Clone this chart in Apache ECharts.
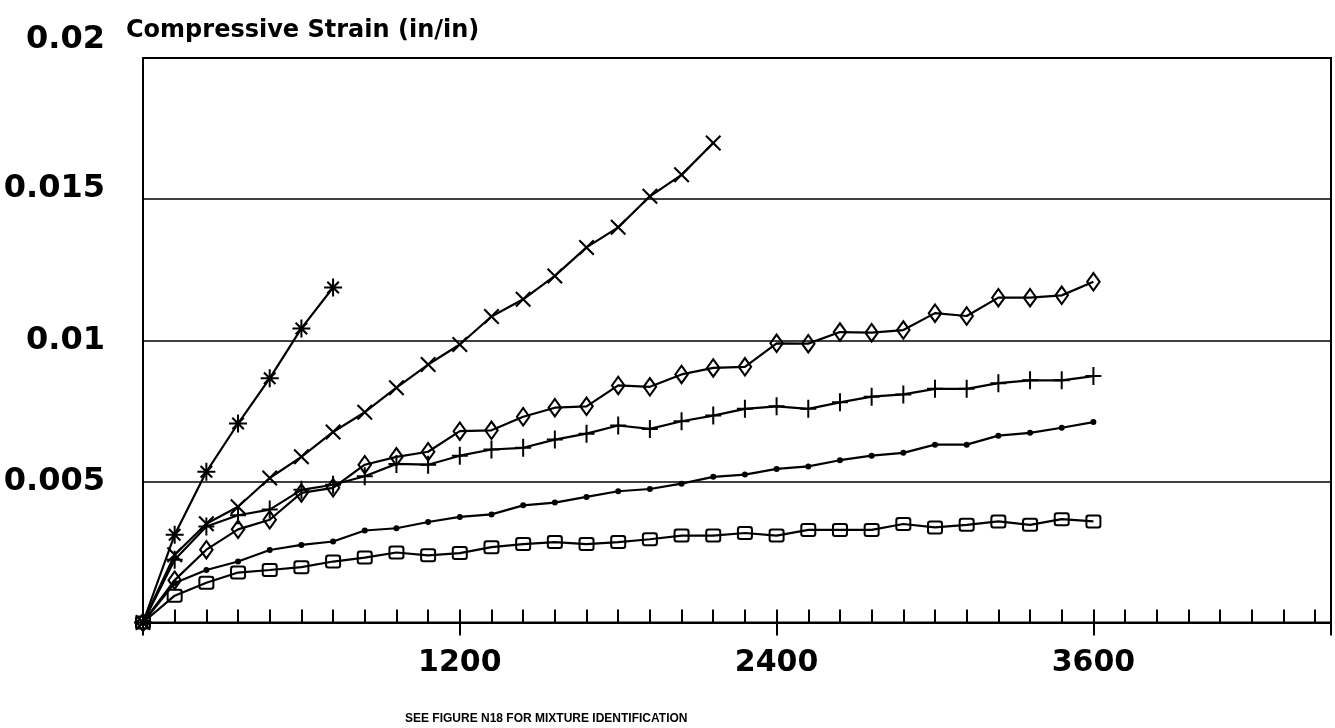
<!DOCTYPE html>
<html>
<head>
<meta charset="utf-8">
<script src="https://cdn.jsdelivr.net/npm/echarts@6/dist/echarts.min.js"></script>
<style>
  html, body { margin: 0; padding: 0; background: #fff; }
  #chart { width: 1335px; height: 728px; }
</style>
</head>
<body>
<div id="chart"></div>
<script>
// Time (x) values shared by all series
const times = [0, 120, 240, 360, 480, 600, 720, 840, 960, 1080, 1200, 1320, 1440, 1560, 1680,
  1800, 1920, 2040, 2160, 2280, 2400, 2520, 2640, 2760, 2880, 3000, 3120, 3240, 3360, 3480, 3600];

// Compressive strain values (in/in), one array per mixture (marker)
const asteriskValues = [0, 0.00311, 0.00534, 0.00705, 0.00865, 0.01042, 0.01187];
const crossValues = [0, 0.0024, 0.0035, 0.0041, 0.00512, 0.00587, 0.00675, 0.00745, 0.00832, 0.00914,
  0.00985, 0.01084, 0.01145, 0.01228, 0.01329, 0.0140, 0.0151, 0.01586, 0.01699];
const diamondValues = [0, 0.0015, 0.00258, 0.0033, 0.00364, 0.00459, 0.00477, 0.00559, 0.00587, 0.00605,
  0.00678, 0.00681, 0.00729, 0.00761, 0.00766, 0.0084, 0.00835, 0.00879, 0.00902, 0.00906,
  0.00989, 0.00988, 0.01029, 0.01027, 0.01036, 0.01096, 0.01086, 0.01151, 0.01151, 0.01159, 0.01207];
const plusValues = [0, 0.00222, 0.0034, 0.0038, 0.004, 0.0047, 0.00488, 0.00518, 0.00562, 0.00559,
  0.00591, 0.00613, 0.00619, 0.00648, 0.00669, 0.00698, 0.00686, 0.00713, 0.00733, 0.00757,
  0.00766, 0.00757, 0.0078, 0.008, 0.00808, 0.00828, 0.00828, 0.00848, 0.00858, 0.00858, 0.00873];
const dotValues = [0, 0.0014, 0.00186, 0.00216, 0.00257, 0.00275, 0.00287, 0.00326, 0.00334, 0.00356,
  0.00374, 0.00383, 0.00415, 0.00425, 0.00445, 0.00465, 0.00473, 0.00492, 0.00516, 0.00524,
  0.00544, 0.00553, 0.00575, 0.00591, 0.00601, 0.0063, 0.0063, 0.00662, 0.00672, 0.0069, 0.0071];
const squareValues = [0, 0.00095, 0.00141, 0.00177, 0.00186, 0.00196, 0.00216, 0.0023, 0.00248, 0.00238,
  0.00246, 0.00267, 0.00278, 0.00285, 0.00278, 0.00285, 0.00295, 0.00308, 0.00308, 0.00317,
  0.00308, 0.00328, 0.00328, 0.00328, 0.00349, 0.00337, 0.00346, 0.00358, 0.00346, 0.00366, 0.00358];

// Axis tick labels
const xTickLabels = [1200, 2400, 3600];
const yTickLabels = ['0.005', '0.01', '0.015', '0.02'];

const titleText = 'Compressive Strain (in/in)';
const footerText = 'SEE FIGURE N18 FOR MIXTURE IDENTIFICATION';

// Marker shapes
const SYM = {
  asterisk: 'path://M8,0H10V8H18V10H10V18H8V10H0V8H8Z M2.5,4L4,2.5L9,7.5L14,2.5L15.5,4L10.5,9L15.5,14L14,15.5L9,10.5L4,15.5L2.5,14L7.5,9Z',
  cross: 'path://M0,1.5L1.5,0L8,6.5L14.5,0L16,1.5L9.5,8L16,14.5L14.5,16L8,9.5L1.5,16L0,14.5L6.5,8Z',
  diamond: 'path://M7.5,0L15,10.5L7.5,21L0,10.5Z M7.5,3.6L2.5,10.5L7.5,17.4L12.5,10.5Z',
  plus: 'path://M7,0H9V8H16V10H9V18H7V10H0V8H7Z',
  square: 'path://M3,0H13Q16,0 16,3V11Q16,14 13,14H3Q0,14 0,11V3Q0,0 3,0Z M3.5,2Q2,2 2,3.5V10.5Q2,12 3.5,12H12.5Q14,12 14,10.5V3.5Q14,2 12.5,2Z'
};

function pairs(vals) {
  return vals.map((v, i) => [times[i], v]);
}

function mkSeries(name, vals, symbol, size) {
  return {
    name: name,
    type: 'line',
    xAxisIndex: 0,
    data: pairs(vals),
    symbol: symbol,
    symbolSize: size,
    showAllSymbol: true,
    lineStyle: { color: '#000', width: 2.2 },
    itemStyle: { color: '#000', borderWidth: 0 },
    emphasis: { disabled: true },
    z: 3
  };
}

const chart = echarts.init(document.getElementById('chart'), null, { renderer: 'canvas' });

const yFont = 'DejaVu Sans';

chart.setOption({
  animation: false,
  backgroundColor: '#fff',
  title: [
    {
      text: titleText,
      left: 121,
      top: 14,
      textStyle: { fontFamily: 'DejaVu Sans', fontWeight: 'bold', fontSize: 24, color: '#000' }
    },
    {
      text: footerText,
      left: 400,
      top: 708,
      textStyle: { fontFamily: 'Liberation Sans Narrow, Liberation Sans', fontWeight: 'bold', fontSize: 12, color: '#000' }
    }
  ],
  grid: {
    left: 143,
    right: 4,
    top: 58,
    bottom: 105.5,
    show: true,
    borderColor: '#000',
    borderWidth: 2,
    backgroundColor: 'transparent'
  },
  xAxis: [
    {
      type: 'value',
      min: 0,
      max: 4500,
      interval: 120,
      position: 'bottom',
      axisLine: { show: true, onZero: false, lineStyle: { color: '#000', width: 2 } },
      axisTick: { show: true, inside: true, length: 13, lineStyle: { color: '#000', width: 2 } },
      axisLabel: { show: false },
      splitLine: { show: false }
    },
    {
      type: 'value',
      min: 0,
      max: 4500,
      interval: 1200,
      position: 'bottom',
      offset: 0,
      axisLine: { show: false, onZero: false },
      axisTick: { show: true, inside: false, length: 13, lineStyle: { color: '#000', width: 2 } },
      axisLabel: {
        show: true,
        margin: 26,
        fontFamily: yFont,
        fontWeight: 'bold',
        fontSize: 30,
        color: '#000',
        formatter: function (v) { return xTickLabels.indexOf(v) >= 0 ? String(v) : ''; }
      },
      splitLine: { show: false }
    }
  ],
  yAxis: {
    type: 'value',
    min: 0,
    max: 0.02,
    interval: 0.005,
    axisLine: { show: true, onZero: false, lineStyle: { color: '#000', width: 2 } },
    axisTick: { show: false },
    splitLine: { show: true, lineStyle: { color: '#000', width: 1.5 } },
    axisLabel: {
      show: true,
      margin: 38,
      fontFamily: yFont,
      fontWeight: 'bold',
      fontSize: 32,
      color: '#000',
      formatter: function (v) {
        const s = parseFloat(v.toFixed(3)).toString();
        if (yTickLabels.indexOf(s) < 0) return '';
        if (s === '0.02') return '{t|' + s + '}';
        if (s === '0.015') return '{m|' + s + '}';
        return s;
      },
      rich: {
        t: { fontFamily: yFont, fontWeight: 'bold', fontSize: 32, color: '#000', padding: [0, 0, 36, 0] },
        m: { fontFamily: yFont, fontWeight: 'bold', fontSize: 32, color: '#000', padding: [0, 0, 20, 0] }
      }
    }
  },
  series: [
    mkSeries('asterisk', asteriskValues, SYM.asterisk, [18, 18]),
    mkSeries('cross', crossValues, SYM.cross, [16, 16]),
    mkSeries('diamond', diamondValues, SYM.diamond, [15, 21]),
    mkSeries('plus', plusValues, SYM.plus, [16, 18]),
    mkSeries('dot', dotValues, 'circle', 6),
    mkSeries('square', squareValues, SYM.square, [16, 14])
  ]
});
</script>
</body>
</html>
